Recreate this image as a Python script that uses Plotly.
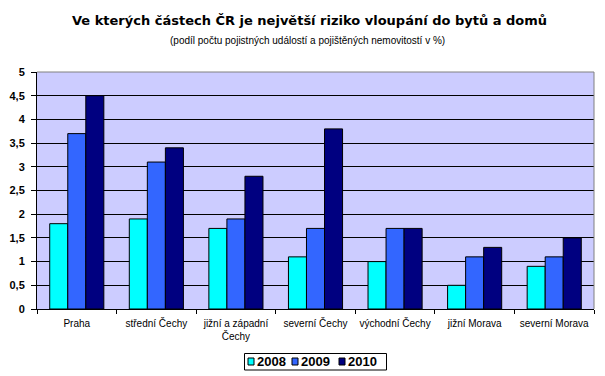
import plotly.graph_objects as go

categories = ["Praha", "střední Čechy", "jižní a západní<br>Čechy", "severní Čechy",
              "východní Čechy", "jižní Morava", "severní Morava"]
v2008 = [1.8, 1.9, 1.7, 1.1, 1.0, 0.5, 0.9]
v2009 = [3.7, 3.1, 1.9, 1.7, 1.7, 1.1, 1.1]
v2010 = [4.5, 3.4, 2.8, 3.8, 1.7, 1.3, 1.5]
years = ["2008", "2009", "2010"]
colors = ["#00FFFF", "#3366FF", "#000080"]
series = list(zip(years, [v2008, v2009, v2010], colors))

W, H = 605, 376
L, R, T, B = 37, 594, 72, 309  # plot area in pixels


def px(x):
    return (x - L) / (R - L)


def py(y):
    return (B - y) / (B - T)


fig = go.Figure()
for name, vals, col in series:
    fig.add_trace(go.Bar(x=categories, y=vals, name=name,
                         marker=dict(color=col, line=dict(color="black", width=1))))

fig.update_layout(
    width=W, height=H,
    margin=dict(l=L, r=W - R, t=T, b=H - B, autoexpand=False),
    paper_bgcolor="white", plot_bgcolor="#CCCCFF",
    barmode="group", bargap=0.32, bargroupgap=0,
    separators=", ",
    font=dict(family="Arial, Liberation Sans", color="black"),
    showlegend=False,
)
fig.add_annotation(text="<b>Ve kterých částech ČR je největší riziko vloupání do bytů a domů</b>",
                   xref="paper", yref="paper", x=px(309), y=py(20), xanchor="center", yanchor="middle",
                   showarrow=False, font=dict(size=13, family="Verdana, DejaVu Sans"))
fig.add_annotation(text="(podíl počtu pojistných událostí a pojištěných nemovitostí v %)",
                   xref="paper", yref="paper", x=px(307), y=py(40), xanchor="center", yanchor="middle",
                   showarrow=False, font=dict(size=10, family="Arial, Liberation Sans"))

fig.update_yaxes(range=[0, 5], dtick=0.5, tick0=0, showgrid=True, gridcolor="black", gridwidth=1,
                 ticks="outside", ticklen=5, tickcolor="black", showline=True, linecolor="black",
                 tickfont=dict(size=11, family="Arial, Liberation Sans", weight="bold"), zeroline=False,
                 tickformat=".1~f", automargin=False, ticklabelstandoff=4)
fig.update_xaxes(tickson="boundaries", ticks="outside", ticklen=4, tickcolor="black",
                 showline=True, linecolor="black", automargin=False, ticklabelstandoff=5,
                 tickfont=dict(size=10, family="Arial, Liberation Sans"), tickangle=0)
# plot-area border on top and right
fig.add_shape(type="line", xref="paper", yref="paper", x0=0, y0=1, x1=1, y1=1,
              line=dict(color="gray", width=1))
fig.add_shape(type="line", xref="paper", yref="paper", x0=1, y0=0, x1=1, y1=1,
              line=dict(color="gray", width=1))

# custom compact legend
fig.add_shape(type="rect", xref="paper", yref="paper", x0=px(244.5), x1=px(386.5),
              y0=py(370), y1=py(353.5), line=dict(color="black", width=1), fillcolor="white")
sq_x = [248, 292, 339]
for i, (name, col) in enumerate(zip(years, colors)):
    x0 = sq_x[i]
    fig.add_shape(type="rect", xref="paper", yref="paper", x0=px(x0), x1=px(x0 + 6),
                  y0=py(365), y1=py(358), line=dict(color="black", width=1), fillcolor=col)
    fig.add_annotation(text="<b>" + name + "</b>", xref="paper", yref="paper", x=px(x0 + 7), y=py(361.5),
                       xanchor="left", yanchor="middle", showarrow=False,
                       font=dict(size=13, family="Arial, Liberation Sans"))

fig.write_html("out.html", config={"displayModeBar": False},
               post_script="document.body.style.margin='0';document.body.style.overflow='hidden';")
